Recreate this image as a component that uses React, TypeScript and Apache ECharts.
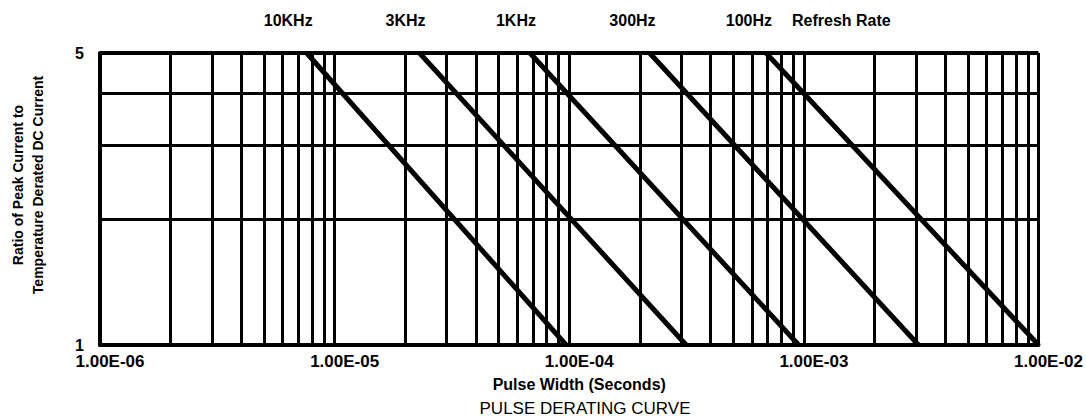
import React, { useEffect, useRef } from "react";
import * as echarts from "echarts";

// Refresh-rate curves: pulse width (s) where ratio = 5 (top) and ratio = 1 (bottom)
const refreshRates = ["10KHz", "3KHz", "1KHz", "300Hz", "100Hz"];
const pulseWidthAtTop = [7.6e-6, 2.3e-5, 6.8e-5, 2.2e-4, 6.9e-4];
const pulseWidthAtBottom = [9.7e-5, 3.15e-4, 9.5e-4, 3.08e-3, 1.0e-2];
const ratioAtTop = [5, 5, 5, 5, 5];
const ratioAtBottom = [1, 1, 1, 1, 1];

// Grid lines
const gridMantissas = [1, 2, 3, 4, 5, 6, 7, 8, 9];
const gridDecades = [1e-6, 1e-5, 1e-4, 1e-3];
const xLastGrid = 1e-2;
const yGridLines = [2, 3, 4, 5];
const yTickLabels = [1, 5];
const yMin = 1;
const yMax = 5;

const FONT = "'Liberation Sans', Arial, sans-serif";

function fmtExp(v: number): string {
  const e = Math.round(Math.log10(v));
  const m = v / Math.pow(10, e);
  return m.toFixed(2) + "E" + (e < 0 ? "-" : "+") + String(Math.abs(e)).padStart(2, "0");
}

export default function App() {
  const ref = useRef<HTMLDivElement>(null);

  useEffect(() => {
    document.body.style.margin = "0";
    if (!ref.current) return;
    const chart = echarts.init(ref.current, null, { renderer: "svg" });

    const xGridLines: number[] = [];
    gridDecades.forEach((d) => gridMantissas.forEach((m) => xGridLines.push(+(m * d).toPrecision(3))));
    xGridLines.push(xLastGrid);

    const gridStyle = { color: "#000", width: 3, type: "solid" as const };

    const curveSeries = refreshRates.map((name, i) => ({
      name,
      type: "line",
      z: 5,
      symbol: "circle",
      symbolSize: 0,
      showSymbol: true,
      lineStyle: { color: "#000", width: 5 },
      itemStyle: { color: "#000" },
      data: [
        {
          value: [pulseWidthAtTop[i], ratioAtTop[i]],
          label: {
            show: true,
            formatter: name,
            position: "top",
            align: "right",
            offset: [6, -20],
            color: "#000",
            fontFamily: FONT,
            fontWeight: "bold",
            fontSize: 16,
          },
        },
        { value: [pulseWidthAtBottom[i], ratioAtBottom[i]] },
      ],
    }));

    const gridSeries = {
      name: "grid",
      type: "line",
      z: 1,
      symbol: "none",
      silent: true,
      data: [[xLastGrid, 1]],
      markLine: {
        silent: true,
        symbol: ["none", "none"],
        label: { show: false },
        lineStyle: gridStyle,
        emphasis: { disabled: true },
        data: [
          ...xGridLines.map((v) => [{ coord: [v, yMin] }, { coord: [v, yMax] }]),
          ...yGridLines.map((v) => [
            { coord: [gridDecades[0], v], lineStyle: { color: "#000", width: v === 5 ? 4 : 3, type: "solid" } },
            { coord: [xLastGrid, v] },
          ]),
        ],
      },
    };

    chart.setOption({
      animation: false,
      backgroundColor: "#fff",
      title: {
        text: "PULSE DERATING CURVE",
        left: 585,
        top: 399,
        padding: 0,
        textAlign: "center",
        textStyle: { color: "#000", fontFamily: FONT, fontWeight: "normal", fontSize: 17, lineHeight: 18 },
      },
      grid: { left: 100, right: 45, top: 53, bottom: 73 },
      xAxis: {
        type: "log",
        logBase: 10,
        min: 1e-6,
        max: 1e-2,
        name: "Pulse Width (Seconds)",
        nameLocation: "middle",
        nameGap: 31,
        nameTextStyle: { color: "#000", fontFamily: FONT, fontWeight: "bold", fontSize: 16, padding: [0, 0, 0, 20] },
        axisLine: { show: true, lineStyle: { color: "#000", width: 4 } },
        axisTick: { show: false },
        splitLine: { show: false },
        minorSplitLine: { show: false },
        axisLabel: {
          color: "#000",
          fontFamily: FONT,
          fontWeight: "bold",
          fontSize: 17,
          margin: 8,
          padding: [0, 0, 0, 20],
          formatter: (v: number) => fmtExp(v),
        },
      },
      yAxis: {
        type: "log",
        logBase: 10,
        min: yMin,
        max: yMax,
        name: "Ratio of Peak Current to\nTemperature Derated DC Current",
        nameLocation: "middle",
        nameRotate: 90,
        nameGap: 52,
        nameTextStyle: {
          color: "#000",
          fontFamily: FONT,
          fontWeight: "bold",
          fontSize: 14,
          lineHeight: 20,
          padding: [0, 0, 0, 28],
        },
        axisLine: { show: true, lineStyle: { color: "#000", width: 4 } },
        axisTick: { show: false },
        splitLine: { show: false },
        axisLabel: {
          customValues: yTickLabels,
          color: "#000",
          fontFamily: FONT,
          fontWeight: "bold",
          fontSize: 16,
          margin: 16,
        },
      },
      graphic: [
        {
          type: "text",
          left: 792,
          top: 12,
          style: { text: "Refresh Rate", fill: "#000", font: `bold 16px ${FONT}` },
        },
      ],
      series: [gridSeries, ...curveSeries],
    });

    return () => chart.dispose();
  }, []);

  return <div ref={ref} style={{ width: 1086, height: 418 }} />;
}
